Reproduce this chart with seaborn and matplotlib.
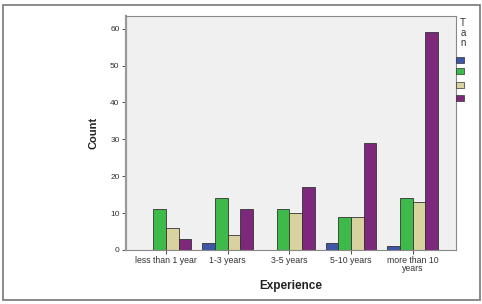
import matplotlib
matplotlib.use("Agg")
import matplotlib.pyplot as plt
import matplotlib.patches as mpatches
import seaborn as sns
import pandas as pd

categories = ["less than 1 year", "1-3 years", "3-5 years", "5-10 years", "more than 10\nyears"]
series_names = ["1", "2", "3", "4"]
blue_vals = [0, 2, 0, 2, 1]
green_vals = [11, 14, 11, 9, 14]
tan_vals = [6, 4, 10, 9, 13]
purple_vals = [3, 11, 17, 29, 59]
colors = ["#3d56a8", "#3dba4a", "#d8d29e", "#7e287c"]
y_ticks = [0, 10, 20, 30, 40, 50, 60]

rows = []
for name, vals in zip(series_names, [blue_vals, green_vals, tan_vals, purple_vals]):
    for c, v in zip(categories, vals):
        rows.append({"Experience": c, "series": name, "Count": v})
df = pd.DataFrame(rows)

sns.set_theme(style="white")
plt.rcParams['font.family'] = ['Liberation Sans', 'DejaVu Sans']

fig = plt.figure(figsize=(4.82, 3.04), dpi=100)
ax = fig.add_axes([0.261, 0.178, 0.685, 0.769])
ax.set_facecolor("#f0f0f0")

sns.barplot(data=df, x="Experience", y="Count", hue="series", order=categories,
            hue_order=series_names, palette=colors, saturation=1, width=0.82, ax=ax,
            edgecolor="#333333", linewidth=0.6, legend=False, errorbar=None)

ax.set_ylim(0, 63.4)
ax.set_xlim(-0.65, 4.7)
ax.set_yticks(y_ticks)
ax.set_yticklabels([str(t) for t in y_ticks], fontsize=6, color="#333333")
ax.set_xticks(range(len(categories)))
ax.set_xticklabels(categories, fontsize=6.3, color="#333333", linespacing=0.8)
ax.tick_params(axis="both", which="both", direction="out", length=3, width=0.6,
               color="#333333", pad=1.5, left=True, bottom=True)
ax.set_xlabel("Experience", fontsize=8.5, fontweight="bold", labelpad=5, color="#222222")
ax.set_ylabel("Count", fontsize=8, fontweight="bold", labelpad=8, color="#222222")
for s in ax.spines.values():
    s.set_color("#888888")
    s.set_linewidth(0.8)
ax.spines["left"].set_linewidth(1.6)
ax.spines["left"].set_color("#999999")

# legend: vertical title and unlabeled swatches
fig.text(0.961, 0.94, "T\na\nn", fontsize=7, ha="center", va="top", linespacing=1.0, color="#333333")
for col, yc in zip(colors, [59.5, 70.5, 84.5, 98.5]):
    fig.patches.append(mpatches.Rectangle((456 / 482, 1 - (yc + 3) / 304), 7.5 / 482, 6 / 304,
                                          transform=fig.transFigure, facecolor=col,
                                          edgecolor="#333333", linewidth=0.5))

# outer frame
fig.patches.append(mpatches.Rectangle((3 / 482, 1 - 300 / 304), 477 / 482, 295 / 304,
                                      transform=fig.transFigure, fill=False,
                                      edgecolor="#777777", linewidth=1.2))

fig.savefig("out.png", dpi=100, facecolor="white")
